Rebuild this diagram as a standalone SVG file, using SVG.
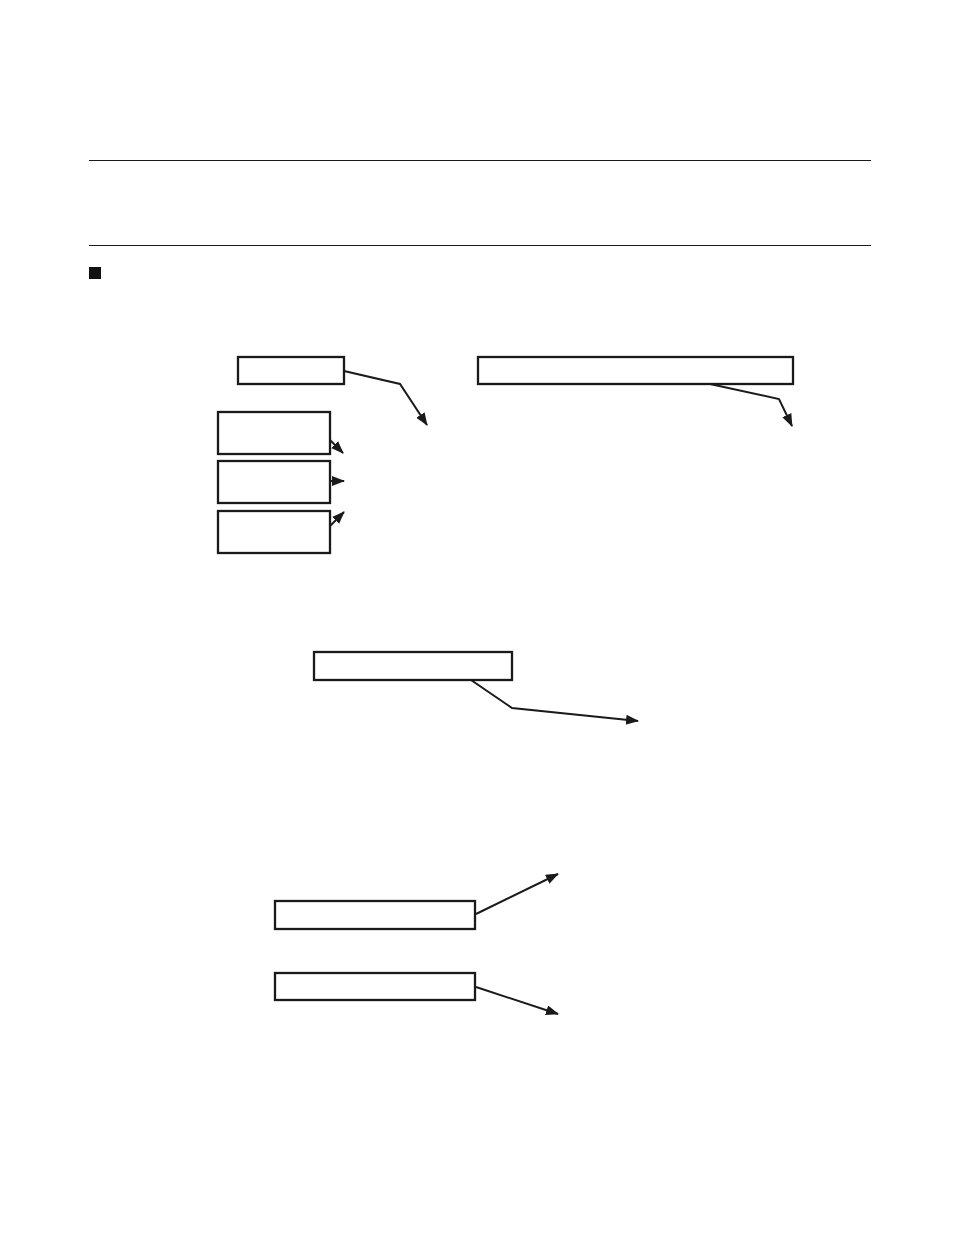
<svg xmlns="http://www.w3.org/2000/svg" width="954" height="1235" viewBox="0 0 954 1235">
<style>
.box{fill:#fff;stroke:#1a1a1a;stroke-width:2.3}
.rule{stroke:#1a1a1a;stroke-width:1.2}
.conn{fill:none;stroke:#1a1a1a;stroke-width:2;stroke-linejoin:miter}
</style>
<defs>
<marker id="arr" markerUnits="userSpaceOnUse" markerWidth="14" markerHeight="11" refX="12" refY="5" orient="auto">
<path d="M0,0 L13,5 L0,10 z" fill="#1a1a1a"/>
</marker>
</defs>
<rect width="954" height="1235" fill="#fff"/>
<g id="rules">
<line class="rule" x1="89" y1="160.5" x2="871" y2="160.5"/>
<line class="rule" x1="89" y1="245.5" x2="871" y2="245.5"/>
<rect x="89" y="267" width="12" height="12" fill="#111"/>
</g>
<g id="connectors">
<polyline class="conn" points="344,371 400,384 427,425" marker-end="url(#arr)"/>
<polyline class="conn" points="330,440 343,453" marker-end="url(#arr)"/>
<polyline class="conn" points="330,481 344,481" marker-end="url(#arr)"/>
<polyline class="conn" points="330,526 344,512" marker-end="url(#arr)"/>
<polyline class="conn" points="710,384 779,399 792,426" marker-end="url(#arr)"/>
<polyline class="conn" points="471,680 512,708 638,721" marker-end="url(#arr)"/>
<polyline class="conn" points="476,914 558,874" marker-end="url(#arr)"/>
<polyline class="conn" points="476,987 558,1014" marker-end="url(#arr)"/>
</g>
<g id="nodeA"><rect class="box" x="238" y="357" width="106" height="27"/></g>
<g id="nodeB"><rect class="box" x="218" y="412" width="112" height="42"/></g>
<g id="nodeC"><rect class="box" x="218" y="461" width="112" height="42"/></g>
<g id="nodeD"><rect class="box" x="218" y="511" width="112" height="42"/></g>
<g id="nodeE"><rect class="box" x="478" y="357" width="315" height="27"/></g>
<g id="nodeF"><rect class="box" x="314" y="652" width="198" height="28"/></g>
<g id="nodeG"><rect class="box" x="275" y="901" width="200" height="28"/></g>
<g id="nodeH"><rect class="box" x="275" y="973" width="200" height="27"/></g>
</svg>
